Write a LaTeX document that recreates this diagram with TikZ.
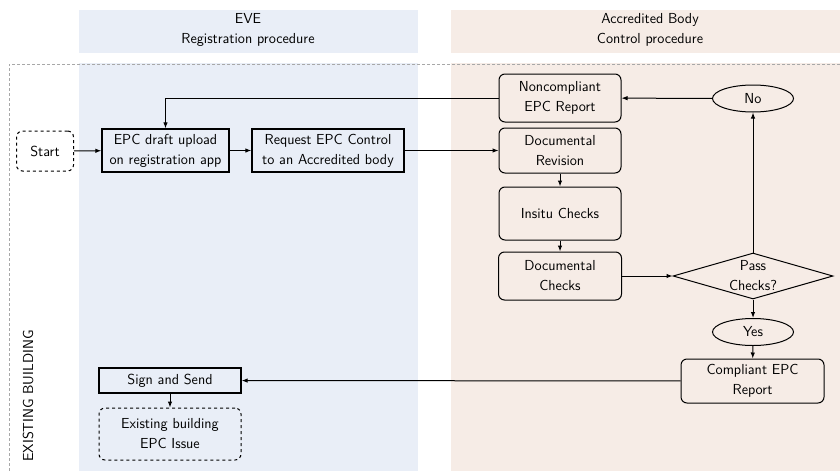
\documentclass[tikz,border=0pt]{standalone}
\usetikzlibrary{arrows.meta,shapes.geometric}
\definecolor{evelane}{HTML}{E9EEF7}
\definecolor{ablane}{HTML}{F6ECE6}
\definecolor{framegray}{HTML}{A8A8A8}
\begin{document}
\begin{tikzpicture}[x=1pt, y=-1pt,
        every node/.style={font=\sffamily\fontsize{14.5}{20}\selectfont, align=center, inner sep=0pt},
        stepbox/.style={draw, line width=1.3pt, rectangle},
        roundbox/.style={draw, line width=1pt, rectangle, rounded corners=6pt},
        endbox/.style={draw, line width=1pt, dashed, rectangle, rounded corners=6pt},
        answer/.style={draw, line width=1pt, ellipse, minimum width=81pt, minimum height=27pt},
        decision/.style={draw, line width=1pt, diamond, minimum width=160pt, minimum height=46pt, aspect=3.5},
        arr/.style={-{Latex[length=6pt, width=4.5pt]}, line width=1pt}]
    \useasboundingbox (0,0) rectangle (840,471);
    % lanes
    \fill[evelane] (79,10) rectangle (418,53);
    \fill[ablane] (451,10) rectangle (840,53);
    \fill[evelane] (79,63) rectangle (418,471);
    \fill[ablane] (451,63) rectangle (840,471);
    \draw[framegray, line width=0.8pt, dash pattern=on 3pt off 2pt] (840,64) -- (9,64) -- (9,471);
    \node (eve) at (248,30) {EVE\\Registration procedure};
    \node (ab) at (650,30) {Accredited Body\\Control procedure};
    \node[rotate=90] (existing) at (28,396) {EXISTING BUILDING};
    % positions
    \coordinate (c1) at (45,151);
    \coordinate (c2) at (165.5,150.5);
    \coordinate (c3) at (328,150.5);
    \coordinate (c4) at (560,98);
    \coordinate (c5) at (560,150.5);
    \coordinate (c6) at (560,213.5);
    \coordinate (c7) at (560,276);
    \coordinate (c8) at (753,276);
    \coordinate (c9) at (753,98.5);
    \coordinate (c10) at (753,332);
    \coordinate (c11) at (752.5,381);
    \coordinate (c12) at (170,380.5);
    \coordinate (c13) at (170,434);
    % boxes
    \node[endbox, minimum width=57pt, minimum height=40pt] (start) at (c1) {Start};
    \node[stepbox, minimum width=127pt, minimum height=43pt] (draft) at (c2) {EPC draft upload\\on registration app};
    \node[stepbox, minimum width=152pt, minimum height=43pt] (request) at (c3) {Request EPC Control\\to an Accredited body};
    \node[roundbox, minimum width=122pt, minimum height=48pt] (noncomp) at (c4) {Noncompliant\\EPC Report};
    \node[roundbox, minimum width=122pt, minimum height=45pt] (docrev) at (c5) {Documental\\Revision};
    \node[roundbox, minimum width=122pt, minimum height=53pt] (insitu) at (c6) {Insitu Checks};
    \node[roundbox, minimum width=123pt, minimum height=48pt] (docchk) at (c7) {Documental\\Checks};
    \node[decision, label={[align=center]center:Pass\\Checks?}] (pass) at (c8) {};
    \node[answer] (no) at (c9) {No};
    \node[answer] (yes) at (c10) {Yes};
    \node[roundbox, minimum width=143pt, minimum height=44pt] (comp) at (c11) {Compliant EPC\\Report};
    \node[stepbox, minimum width=142pt, minimum height=25pt] (sign) at (c12) {Sign and Send};
    \node[endbox, minimum width=142pt, minimum height=52pt] (issue) at (c13) {Existing building\\EPC Issue};
    % connectors
    \draw[arr] (start) -- (draft);
    \draw[arr] (draft) -- (request);
    \draw[arr] (request) -- (docrev);
    \draw[arr] (docrev) -- (insitu);
    \draw[arr] (insitu) -- (docchk);
    \draw[arr] (docchk) -- (pass);
    \draw[arr] (pass) -- (no);
    \draw[arr] (no) -- (noncomp);
    \draw[arr] (noncomp.west) -| (draft.north);
    \draw[arr] (pass) -- (yes);
    \draw[arr] (yes) -- (comp);
    \draw[arr] (comp) -- (sign);
    \draw[arr] (sign) -- (issue);
\end{tikzpicture}
\end{document}
